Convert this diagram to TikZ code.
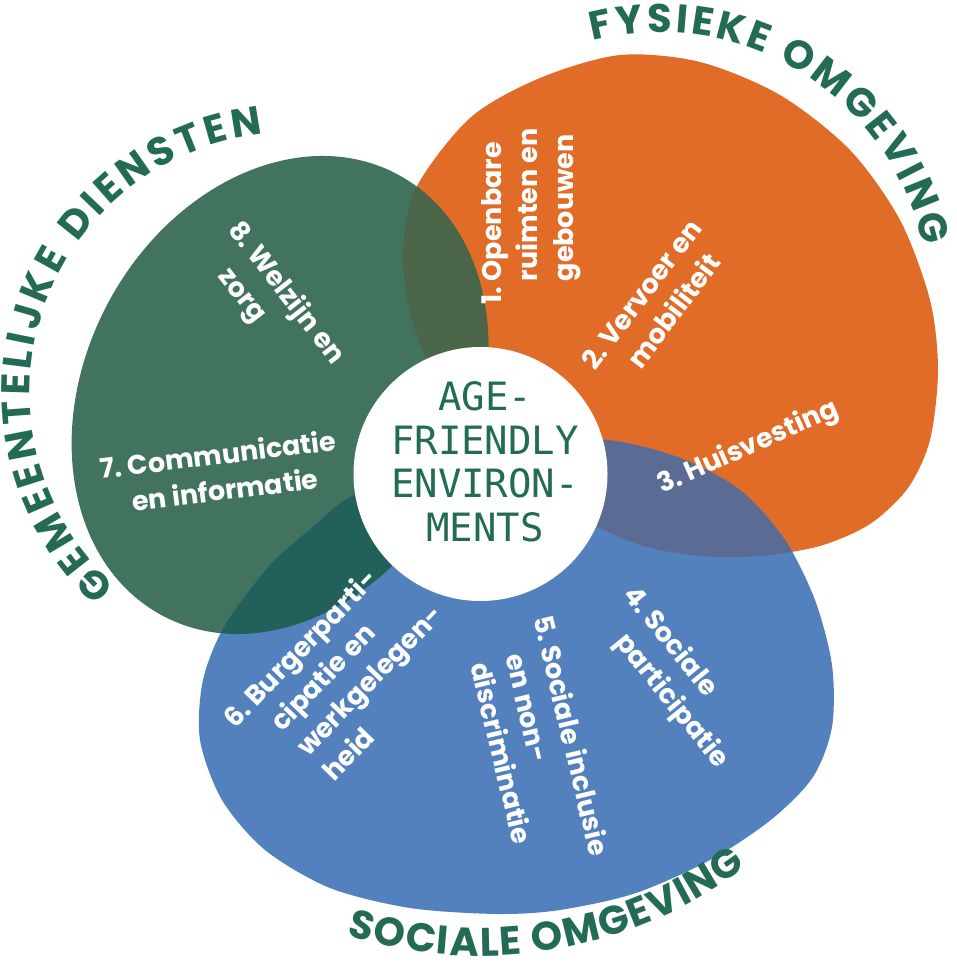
\documentclass[tikz,border=0pt]{standalone}
\usepackage{fontspec}
\usetikzlibrary{decorations.text,calc}
\newfontfamily\pop{Poppins}
\newfontfamily\monof{DejaVu Sans Mono}
\definecolor{orgc}{HTML}{E06C28}
\definecolor{grnc}{HTML}{42735F}
\definecolor{bluc}{HTML}{5381BE}
\definecolor{ogc}{HTML}{4A6548}
\definecolor{gbc}{HTML}{22615A}
\definecolor{obc}{HTML}{5A6C94}
\definecolor{titlegreen}{HTML}{236B55}
\newcommand\hng[1]{\phantom{#1\ }}
\newcommand\rows[1]{\begin{tabular}[t]{@{}l@{}}#1\end{tabular}}
\newcommand\titlef{\color{titlegreen}\pop\bfseries\fontsize{40}{40}\selectfont}
% blob outlines (y measured upwards)
\newcommand\orangeblob{plot[smooth cycle] coordinates {(470,851) (540,891) (620,914) (700,907) (780,874) (850,819) (900,749) (930,669) (938,599) (930,529) (908,481) (870,445) (820,423) (760,413) (700,413) (640,424) (580,452) (520,499) (450,569) (415,639) (403,709) (415,779)}}
\newcommand\blueblob{plot[smooth cycle] coordinates {(350,472) (430,507) (520,526) (607,529) (680,511) (740,479) (785,429) (815,369) (832,304) (832,242) (813,192) (772,150) (712,110) (636,76) (560,59) (497,55) (410,61) (330,81) (265,119) (222,169) (200,229) (203,289) (225,344) (270,404) (315,444)}}
\tikzset{
  lbl/.style={text=white, font=\pop\bfseries\fontsize{27}{36}\selectfont, inner sep=0pt, anchor=base west},
  greenT/.style={rotate around={-28:(280,574)}},
  titlearc/.style={decorate, decoration={text along path, text align=fit to path, text={#1}}}
}
\begin{document}
\begin{tikzpicture}[x=1pt,y=1pt]
\useasboundingbox (0,0) rectangle (957,969);
% main blobs
\fill[orgc] \orangeblob;
\fill[grnc, greenT] (280,574) ellipse [x radius=195, y radius=250];
\fill[bluc] \blueblob;
% overlaps
\begin{scope}
  \clip \orangeblob;
  \fill[ogc, greenT] (280,574) ellipse [x radius=195, y radius=250];
  \fill[obc] \blueblob;
\end{scope}
\begin{scope}
  \clip[greenT] (280,574) ellipse [x radius=195, y radius=250];
  \fill[gbc] \blueblob;
\end{scope}
% centre
\fill[white] (480.5,495) circle [radius=127];
\node[font=\monof\fontsize{39}{43.5}\selectfont, text=titlegreen, align=center, inner sep=0pt] (core) at (485,507) {AGE-\\FRIENDLY\\ENVIRON-\\MENTS};
% titles
\path[titlearc={|\titlef|FYSIEKE OMGEVING}] ($(660,669)+(104.5:268)$) arc[start angle=104.5, end angle=11.5, radius=268];
\path[titlearc={|\titlef|GEMEENTELIJKE DIENSTEN}] ($(290,576)+(228:260)$) arc[start angle=228, end angle=96, radius=260];
\path[titlearc={|\titlef|SOCIALE OMGEVING}] ($(480,456)+(252.5:443)$) arc[start angle=252.5, end angle=307, radius=443];
% labels
\node[lbl, rotate=90] (l1) at (501,664) {\rows{1.\ Openbare\\\hng{1.}ruimten en\\\hng{1.}gebouwen}};
\node[lbl, rotate=53] (l2) at (595,597) {\rows{2.\ Vervoer en\\\hng{2.}mobiliteit}};
\node[lbl, rotate=24] (l3) at (662,475) {\rows{3.\ Huisvesting}};
\node[lbl, rotate=-51] (l4) at (622,374) {\rows{4.\ Sociale\\\hng{4.}participatie}};
\node[lbl, rotate=-76.5] (l5) at (533,351) {\rows{5.\ Sociale inclusie\\\hng{5.}en non-\\\hng{5.}discriminatie}};
\node[lbl, rotate=46] (l6) at (235,239) {\rows{6.\ Burgerparti-\\\hng{6.}cipatie en\\\hng{6.}werkgelegen-\\\hng{6.}heid}};
\node[lbl, rotate=7] (l7) at (101,490) {\rows{7.\ Communicatie\\\hng{7.}en informatie}};
\node[lbl, rotate=-52] (l8) at (227,739) {\rows{8.\ Welzijn en\\\hng{8.}zorg}};
\end{tikzpicture}
\end{document}
